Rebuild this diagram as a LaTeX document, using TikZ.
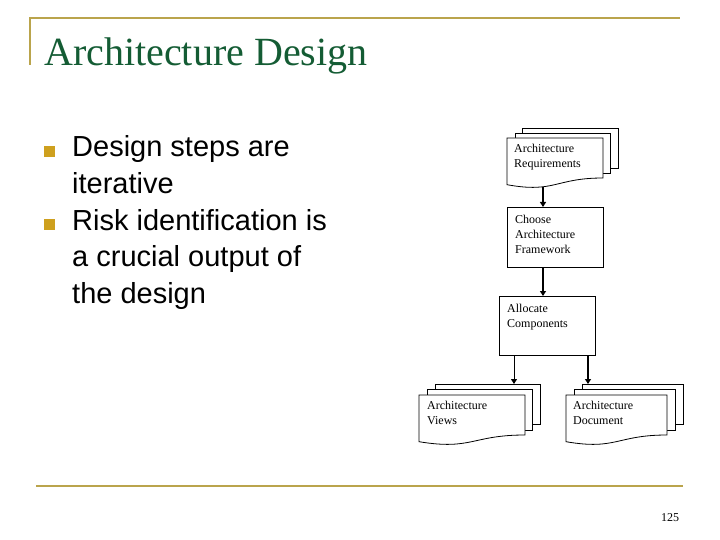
\documentclass[tikz,border=0pt]{standalone}
\usepackage{fontspec}
\setmainfont{Liberation Serif}
\newfontfamily\arialfont{Liberation Sans}
\usetikzlibrary{arrows.meta}
\definecolor{rulegold}{RGB}{186,164,76}
\definecolor{bulletgold}{RGB}{206,160,30}
\definecolor{titlegreen}{RGB}{20,92,52}
\tikzset{
  docline/.style={draw=black, line width=.8pt, fill=white},
  flowtext/.style={anchor=base west, inner sep=0pt, align=left,
    font=\fontsize{12}{15}\selectfont},
  bullettext/.style={anchor=base west, inner sep=0pt, align=left,
    font=\arialfont\fontsize{29}{36.5}\selectfont},
  flowarrow/.style={line width=1.6pt, -{Triangle[length=5pt,width=6pt]}}
}
\begin{document}
\begin{tikzpicture}[x=1pt, y=-1pt]
                \useasboundingbox (0, 0) rectangle (720, 540);

                \draw[rulegold, line width = 2.5pt](30, 65) to (30, 18) to (680, 18);
                \draw[rulegold, line width = 2.5pt](36, 486) to (683, 486);

                \node[anchor = base west, inner sep = 0pt, text = titlegreen,
                    font = \fontsize{40}{48}\selectfont] (title) at (44, 66) {Architecture Design};

                \fill[bulletgold](44, 146.5) rectangle (55, 157.5);
                \node[bullettext] (first) at (72, 193.5) {Design steps are\\iterative};
                \fill[bulletgold](44, 219.5) rectangle (55, 230.5);
                \node[bullettext] (second) at (72, 303) {Risk identification is\\a crucial output of\\the design};

                \draw[docline](522, 128) rectangle (618, 168);
                \draw[docline](515, 133) rectangle (610, 173);
                \draw[docline](507, 138) to (603, 138) to (603, 178)
                    .. controls (555, 178) and (555, 193.4) .. (507, 184.7) -- cycle;
                \node[flowtext] (reqtext) at (514, 168) {Architecture\\Requirements};
                \coordinate (req) at (543, 187.5);

                \node[docline, anchor = north west, minimum width = 96pt, minimum height = 60pt]
                    (choose) at (507, 207) {};
                \node[flowtext] (choosetext) at (515, 253) {Choose\\Architecture\\Framework};

                \node[docline, anchor = north west, minimum width = 96pt, minimum height = 59pt]
                    (allocate) at (499, 296) {};
                \node[flowtext] (allocatetext) at (507, 327) {Allocate\\Components};

                \draw[docline](435, 384) rectangle (540, 424);
                \draw[docline](427, 389) rectangle (532, 430);
                \draw[docline](419, 395) to (525, 395) to (525, 435)
                    .. controls (472, 435) and (472, 450.4) .. (419, 441.7) -- cycle;
                \node[flowtext] (viewstext) at (427, 424) {Architecture\\Views};
                \coordinate (views) at (514, 384);

                \draw[docline](582, 384) rectangle (683, 424);
                \draw[docline](574, 389) rectangle (675, 430);
                \draw[docline](566, 395) to (667, 395) to (667, 435)
                    .. controls (616.5, 435) and (616.5, 450.4) .. (566, 441.7) -- cycle;
                \node[flowtext] (documenttext) at (573, 424) {Architecture\\Document};
                \coordinate (document) at (588, 384);

                \draw[flowarrow](req) to (req |- choose.north);
                \draw[flowarrow](req |- choose.south) to (req |- allocate.north);
                \draw[flowarrow, line width = 1pt](views |- allocate.south) to (views);
                \draw[flowarrow](document |- allocate.south) to (document);

                \node[anchor = base west, inner sep = 0pt, font = \fontsize{12}{14}\selectfont]
                    (page) at (661, 521) {125};
            \end{tikzpicture}
\end{document}
